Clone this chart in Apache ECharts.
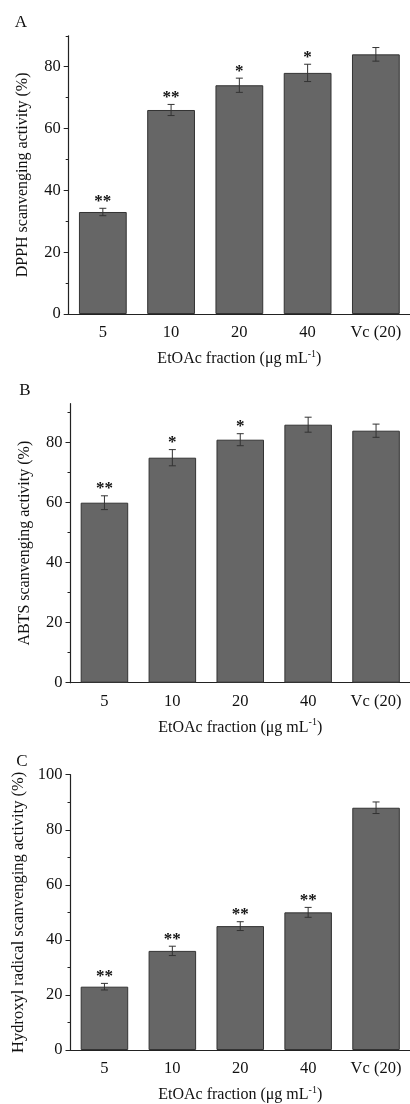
<!DOCTYPE html>
<html>
<head>
<meta charset="utf-8">
<script src="https://cdn.jsdelivr.net/npm/echarts@6/dist/echarts.min.js"></script>
<style>
  html, body { margin: 0; padding: 0; background: #fff; }
  #chart { width: 410px; height: 1104px; }
</style>
</head>
<body>
<div id="chart"></div>
<script>
// 横轴类别
const categories = ['5', '10', '20', '40', 'Vc (20)']

// A: DPPH
const dpphValues = [33, 66, 74, 78, 84]
const dpphErrors = [1.2, 1.8, 2.3, 2.8, 2.2]
const dpphMarks = ['**', '**', '*', '*', '']

// B: ABTS
const abtsValues = [60, 75, 81, 86, 84]
const abtsErrors = [2.3, 2.7, 2.0, 2.5, 2.2]
const abtsMarks = ['**', '*', '*', '', '']

// C: Hydroxyl radical
const hydroxylValues = [23, 36, 45, 50, 88]
const hydroxylErrors = [1.2, 1.7, 1.6, 1.8, 2.1]
const hydroxylMarks = ['**', '**', '**', '**', '']

// 刻度
const majorTicksA = [0, 20, 40, 60, 80]
const minorTicksA = [10, 30, 50, 70, 90]
const majorTicksB = [0, 20, 40, 60, 80]
const minorTicksB = [10, 30, 50, 70, 90]
const majorTicksC = [0, 20, 40, 60, 80, 100]
const minorTicksC = [10, 30, 50, 70, 90]

const SERIF = '"Liberation Serif", "DejaVu Serif", serif'
const INK = '#111'
const AXIS = '#222'

const panels = [
  { letter: 'A', name: 'DPPH scanvenging activity (%)', nameSize: 16, max: 90,
    values: dpphValues, errors: dpphErrors, marks: dpphMarks, major: majorTicksA, minor: minorTicksA,
    grid: { left: 68.7, top: 35.8, width: 345, height: 278.2 }, letterPos: [21, 23] },
  { letter: 'B', name: 'ABTS scanvenging activity (%)', nameSize: 16, max: 93,
    values: abtsValues, errors: abtsErrors, marks: abtsMarks, major: majorTicksB, minor: minorTicksB,
    grid: { left: 70.5, top: 403.7, width: 342.5, height: 279 }, letterPos: [25, 391] },
  { letter: 'C', name: 'Hydroxyl radical scanvenging activity (%)', nameSize: 16.5, max: 100,
    values: hydroxylValues, errors: hydroxylErrors, marks: hydroxylMarks, major: majorTicksC, minor: minorTicksC,
    grid: { left: 70.5, top: 774.7, width: 342.5, height: 279 }, letterPos: [22, 762] }
]

// 误差线 + 显著性星号
const makeErrorRender = (marks) => (params, api) => {
  const i = api.value(0)
  const v = api.value(1)
  const e = api.value(2)
  const top = api.coord([i, v + e])
  const bot = api.coord([i, v - e])
  const hw = 3.5
  const lineStyle = { stroke: '#333', lineWidth: 1 }
  const children = [
    { type: 'line', shape: { x1: top[0], y1: top[1], x2: bot[0], y2: bot[1] }, style: lineStyle },
    { type: 'line', shape: { x1: top[0] - hw, y1: top[1], x2: top[0] + hw, y2: top[1] }, style: lineStyle },
    { type: 'line', shape: { x1: bot[0] - hw, y1: bot[1], x2: bot[0] + hw, y2: bot[1] }, style: lineStyle }
  ]
  const mark = marks[params.dataIndex]
  if (mark) {
    children.push({
      type: 'text',
      x: top[0],
      y: top[1] - 7,
      style: {
        text: mark,
        fill: INK,
        font: 'bold 17px ' + SERIF,
        align: 'center',
        verticalAlign: 'middle'
      }
    })
  }
  return { type: 'group', children }
}

const grid = []
const xAxis = []
const yAxis = []
const series = []
const graphic = []

panels.forEach((p, k) => {
  grid.push(p.grid)

  // 主横轴：类别中心刻度
  xAxis.push({
    type: 'category',
    gridIndex: k,
    position: 'bottom',
    data: categories,
    name: '{t|EtOAc fraction (μg mL}{s|-1}{t|)}',
    nameLocation: 'middle',
    nameGap: 35,
    nameTextStyle: {
      rich: {
        t: { fontFamily: SERIF, fontSize: 16, color: INK, lineHeight: 18, verticalAlign: 'bottom' },
        s: { fontFamily: SERIF, fontSize: 10, color: INK, lineHeight: 18, verticalAlign: 'top' }
      }
    },
    axisLine: { lineStyle: { color: AXIS, width: 1.2 } },
    axisTick: { alignWithLabel: true, length: 5, lineStyle: { color: AXIS } },
    axisLabel: { fontFamily: SERIF, fontSize: 16.5, color: INK, margin: 10 },
    splitLine: { show: false }
  })
  // 副横轴：类别边界短刻度
  xAxis.push({
    type: 'category',
    gridIndex: k,
    position: 'bottom',
    data: categories,
    axisLine: { show: false },
    axisTick: { length: 2, lineStyle: { color: AXIS } },
    axisLabel: { show: false },
    splitLine: { show: false }
  })

  // 主纵轴
  yAxis.push({
    type: 'value',
    gridIndex: k,
    position: 'left',
    min: 0,
    max: p.max,
    name: p.name,
    nameLocation: 'middle',
    nameGap: 38,
    nameTextStyle: { fontFamily: SERIF, fontSize: p.nameSize, color: INK },
    axisLine: { show: true, onZero: false, lineStyle: { color: AXIS, width: 1.2 } },
    axisTick: { show: true, length: 5, customValues: p.major, lineStyle: { color: AXIS } },
    axisLabel: { fontFamily: SERIF, fontSize: 16.5, color: INK, margin: 8, customValues: p.major },
    splitLine: { show: false }
  })
  // 次刻度
  yAxis.push({
    type: 'value',
    gridIndex: k,
    position: 'left',
    min: 0,
    max: p.max,
    axisLine: { show: false },
    axisTick: { show: true, length: 3, customValues: p.minor, lineStyle: { color: AXIS } },
    axisLabel: { show: false },
    splitLine: { show: false }
  })

  series.push({
    type: 'bar',
    xAxisIndex: 2 * k,
    yAxisIndex: 2 * k,
    data: p.values,
    barWidth: '70%',
    itemStyle: { color: '#666666', borderColor: '#333333', borderWidth: 1 },
    silent: true
  })
  series.push({
    type: 'custom',
    xAxisIndex: 2 * k,
    yAxisIndex: 2 * k,
    data: p.values.map((v, i) => [i, v, p.errors[i]]),
    encode: { x: 0, y: 1 },
    renderItem: makeErrorRender(p.marks),
    silent: true,
    z: 3
  })

  graphic.push({
    type: 'text',
    x: p.letterPos[0],
    y: p.letterPos[1],
    style: {
      text: p.letter,
      fill: INK,
      font: '17px ' + SERIF,
      align: 'center',
      verticalAlign: 'middle'
    }
  })
})

const chart = echarts.init(document.getElementById('chart'))
chart.setOption({
  animation: false,
  backgroundColor: '#fff',
  grid,
  xAxis,
  yAxis,
  series,
  graphic
})
</script>
</body>
</html>
